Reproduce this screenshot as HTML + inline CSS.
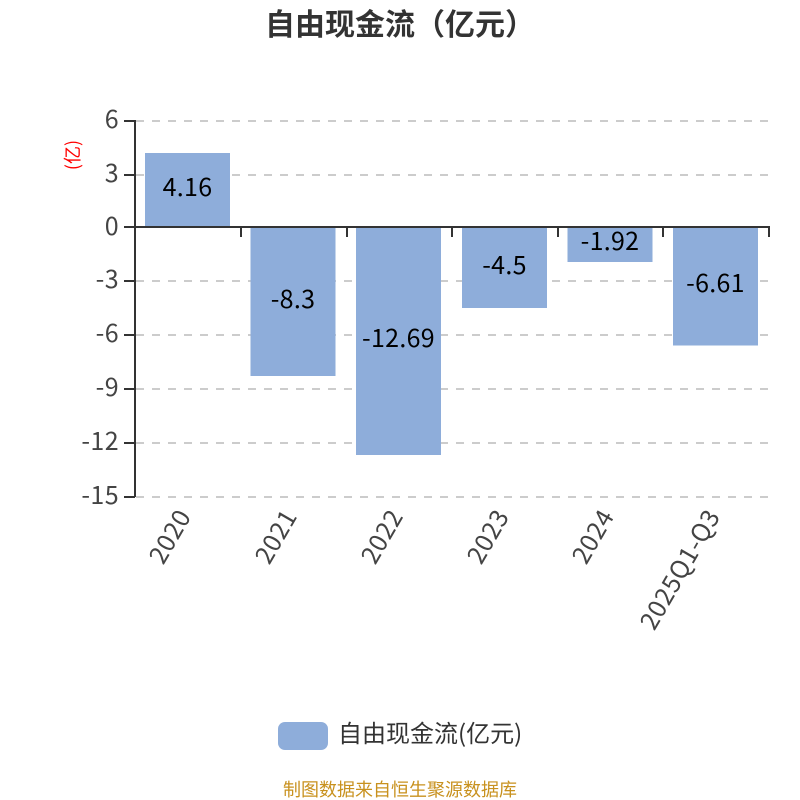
<!DOCTYPE html>
<html><head><meta charset="utf-8"><style>
html,body{margin:0;padding:0;background:#fff}
svg{display:block}
text{font-family:"Noto Sans CJK SC","Liberation Sans",sans-serif}
</style></head><body>
<svg width="800" height="800" viewBox="0 0 800 800" xmlns="http://www.w3.org/2000/svg">
<text x="400" y="35" text-anchor="middle" font-size="30" font-weight="700" fill="#333">自由现金流（亿元）</text>
<g stroke="#ccc" stroke-width="2" stroke-dasharray="8 8">
<path d="M136 121H769M136 175H769M136 281H769M136 335H769M136 389H769M136 443H769M136 497H769"/>
</g>
<g fill="#8eadda">
<rect x="145" y="153" width="85" height="74.5"/>
<rect x="250.500" y="227" width="85" height="149"/>
<rect x="356" y="227" width="85" height="228"/>
<rect x="462" y="227" width="85" height="81"/>
<rect x="567.500" y="227" width="85" height="35"/>
<rect x="673" y="227" width="85" height="118.500"/>
</g>
<g stroke="#333" stroke-width="2" fill="none">
<path d="M135 120V497"/>
<path d="M124 121H135M124 175H135M124 227H135M124 281H135M124 335H135M124 389H135M124 443H135M124 497H135"/>
<path d="M135 227H770"/>
<path d="M241 227V237M347 227V237M452 227V237M558 227V237M663 227V237M769 227V237"/>
</g>
<g font-size="25" fill="#444" text-anchor="end" letter-spacing="0.4">
<text x="119" y="128">6</text>
<text x="119" y="182">3</text>
<text x="119" y="235">0</text>
<text x="119" y="288">-3</text>
<text x="119" y="342">-6</text>
<text x="119" y="396">-9</text>
<text x="119" y="450">-12</text>
<text x="119" y="504">-15</text>
</g>
<text transform="translate(79 155) rotate(-90)" text-anchor="middle" font-size="18" fill="#f00">(亿)</text>
<g font-size="25" fill="#000" text-anchor="middle" letter-spacing="0.3">
<text x="187.500" y="196">4.16</text>
<text x="293" y="308">-8.3</text>
<text x="398.500" y="347">-12.69</text>
<text x="504.500" y="274">-4.5</text>
<text x="610" y="250">-1.92</text>
<text x="715.500" y="292">-6.61</text>
</g>
<g font-size="25" fill="#444" text-anchor="end" letter-spacing="0.5">
<text transform="translate(192 516) rotate(-60)">2020</text>
<text transform="translate(298 516) rotate(-60)">2021</text>
<text transform="translate(404 516) rotate(-60)">2022</text>
<text transform="translate(510 516) rotate(-60)">2023</text>
<text transform="translate(615 516) rotate(-60)">2024</text>
<text transform="translate(721 516) rotate(-60)">2025Q1-Q3</text>
</g>
<rect x="278" y="722" width="50" height="28" rx="7" fill="#8eadda"/>
<text x="338" y="742" font-size="24" fill="#333">自由现金流(亿元)</text>
<text x="400" y="796" text-anchor="middle" font-size="18" fill="#c8911e">制图数据来自恒生聚源数据库</text>
</svg>
</body></html>
